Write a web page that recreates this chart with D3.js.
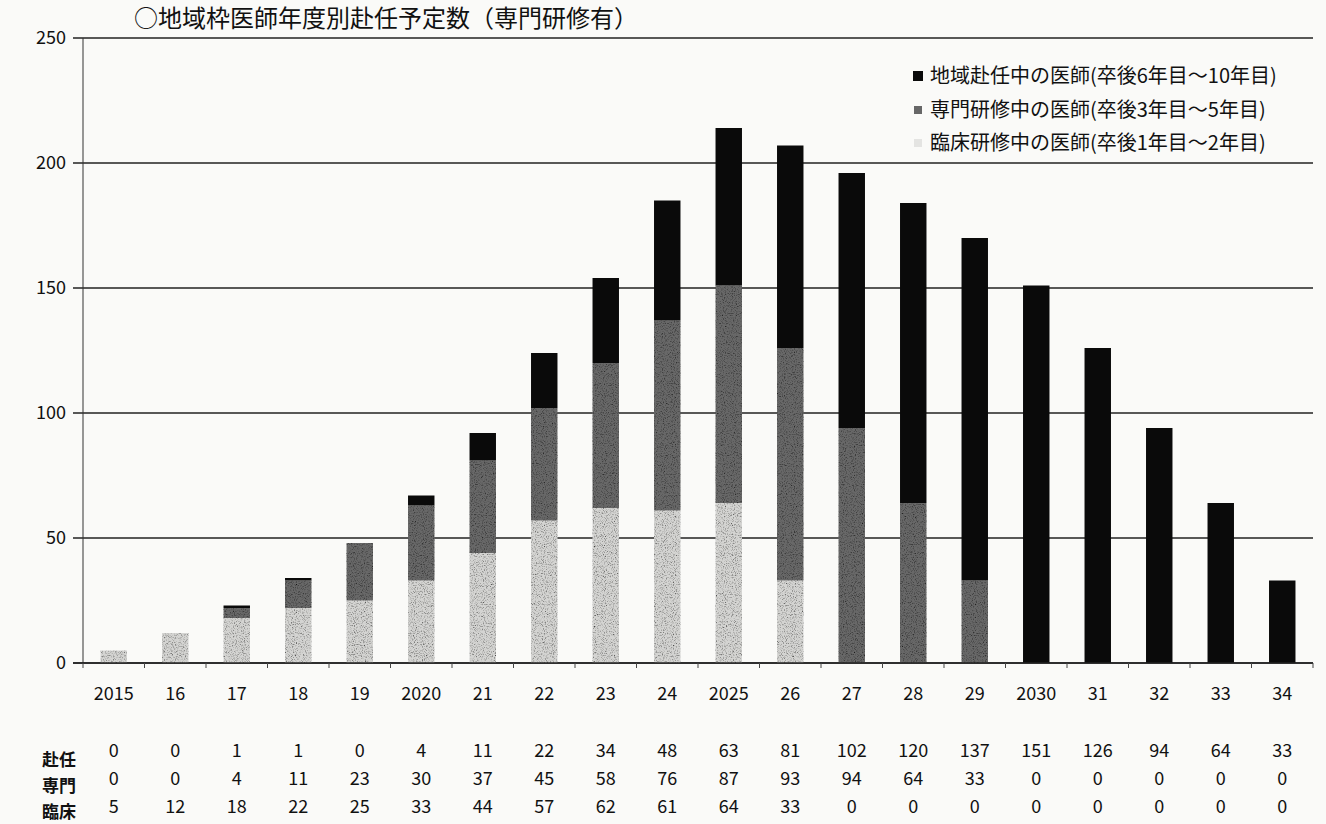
<!DOCTYPE html>
<html>
<head>
<meta charset="utf-8">
<script src="https://cdn.jsdelivr.net/npm/d3@7"></script>
<style>
  body { margin: 0; background: #fafaf8; }
  svg { display: block; }
  text { font-family: "Noto Sans CJK JP", "Noto Sans", sans-serif; fill: #111; }
</style>
</head>
<body>
<div class="canvas"></div>
<script>
// tick labels on the x axis (fiscal years)
const years = ['2015','16','17','18','19','2020','21','22','23','24','2025','26','27','28','29','2030','31','32','33','34'];

// doctors by stage
const rinsho = [5, 12, 18, 22, 25, 33, 44, 57, 62, 61, 64, 33, 0, 0, 0, 0, 0, 0, 0, 0];   // 臨床研修
const senmon = [0, 0, 4, 11, 23, 30, 37, 45, 58, 76, 87, 93, 94, 64, 33, 0, 0, 0, 0, 0];  // 専門研修
const funin  = [0, 0, 1, 1, 0, 4, 11, 22, 34, 48, 63, 81, 102, 120, 137, 151, 126, 94, 64, 33]; // 地域赴任

const seriesKeys = ['rinsho', 'senmon', 'funin'];
const legendLabels = ['地域赴任中の医師(卒後6年目～10年目)', '専門研修中の医師(卒後3年目～5年目)', '臨床研修中の医師(卒後1年目～2年目)'];
const tableRows = [['赴任', funin], ['専門', senmon], ['臨床', rinsho]];
const yTicks = [0, 50, 100, 150, 200, 250];

const colors = {rinsho: '#d4d4d2', senmon: '#676767', funin: '#0a0a0a'};

const dims = {width: 1326, height: 824};
const plot = {left: 83, right: 1313, top: 38, bottom: 663};

const svg = d3.select('.canvas')
    .append('svg').attr('width', dims.width).attr('height', dims.height);

// build rows for the stack
const rows = years.map((y, i) => ({year: y, rinsho: rinsho[i], senmon: senmon[i], funin: funin[i]}));
const stacked = d3.stack().keys(seriesKeys)(rows);

const x = d3.scaleBand()
    .domain(years)
    .range([plot.left, plot.right])
    .paddingInner(0.57)
    .paddingOuter(0.285);

const y = d3.scaleLinear()
    .domain([0, 250])
    .range([plot.bottom, plot.top]);

// speckle texture like the scanned original
const defs = svg.append('defs');
const f = defs.append('filter').attr('id', 'grain').attr('x', 0).attr('y', 0).attr('width', 1).attr('height', 1);
f.append('feTurbulence').attr('type', 'fractalNoise').attr('baseFrequency', 0.9).attr('numOctaves', 2).attr('seed', 3).attr('result', 'noise');
f.append('feColorMatrix').attr('in', 'noise').attr('type', 'matrix')
    .attr('values', '0 0 0 0 0  0 0 0 0 0  0 0 0 0 0  0 0 0 -2.2 1.15').attr('result', 'dots');
f.append('feComposite').attr('in', 'dots').attr('in2', 'SourceGraphic').attr('operator', 'in').attr('result', 'dots2');
f.append('feMerge').selectAll('feMergeNode').data(['SourceGraphic', 'dots2']).join('feMergeNode').attr('in', d => d);

// gridlines
svg.append('g')
    .selectAll('line')
    .data(yTicks)
    .join('line')
    .attr('x1', plot.left - 10).attr('x2', plot.right)
    .attr('y1', d => y(d)).attr('y2', d => y(d))
    .attr('stroke', '#222').attr('stroke-width', 1.3);

// y axis line
svg.append('line')
    .attr('x1', plot.left).attr('x2', plot.left)
    .attr('y1', y(250)).attr('y2', y(0))
    .attr('stroke', '#333').attr('stroke-width', 1);

// y tick labels
svg.append('g')
    .selectAll('text')
    .data(yTicks)
    .join('text')
    .attr('x', 66).attr('y', d => y(d))
    .attr('dy', '0.35em')
    .attr('text-anchor', 'end')
    .attr('font-size', 18)
    .text(d => d);

// bars
const groups = svg.append('g')
    .selectAll('g')
    .data(stacked)
    .join('g')
    .attr('fill', d => colors[d.key])
    .attr('filter', d => d.key === 'funin' ? null : 'url(#grain)');

groups.selectAll('rect')
    .data(d => d)
    .join('rect')
    .attr('x', d => x(d.data.year))
    .attr('width', x.bandwidth())
    .attr('y', d => y(d[1]))
    .attr('height', d => y(d[0]) - y(d[1]));

// x axis with small ticks between categories
svg.append('line')
    .attr('x1', plot.left - 10).attr('x2', plot.right)
    .attr('y1', y(0)).attr('y2', y(0))
    .attr('stroke', '#222').attr('stroke-width', 1.3);

svg.append('g')
    .selectAll('line')
    .data(d3.range(years.length + 1))
    .join('line')
    .attr('x1', i => plot.left + i * x.step()).attr('x2', i => plot.left + i * x.step())
    .attr('y1', y(0)).attr('y2', y(0) + 5)
    .attr('stroke', '#444');

svg.append('g')
    .selectAll('text')
    .data(years)
    .join('text')
    .attr('x', d => x(d) + x.bandwidth() / 2)
    .attr('y', 694)
    .attr('dy', '0.35em')
    .attr('text-anchor', 'middle')
    .attr('font-size', 18)
    .text(d => d);

// data table under the axis
const rowY = [751, 779, 807];
const labelY = [760, 786, 812];
tableRows.forEach(([label, vals], r) => {
    svg.append('text')
        .attr('x', 42).attr('y', labelY[r])
        .attr('dy', '0.35em')
        .attr('font-size', 17)
        .attr('font-weight', 'bold')
        .text(label);
    svg.append('g')
        .selectAll('text')
        .data(vals)
        .join('text')
        .attr('x', (d, i) => x(years[i]) + x.bandwidth() / 2)
        .attr('y', rowY[r])
        .attr('dy', '0.35em')
        .attr('text-anchor', 'middle')
        .attr('font-size', 18)
        .text(d => d);
});

// title
svg.append('text')
    .attr('x', 134).attr('y', 19)
    .attr('dy', '0.35em')
    .attr('font-size', 24)
    .attr('fill', '#222')
    .text('○地域枠医師年度別赴任予定数（専門研修有）');

// legend
const legendKeys = ['funin', 'senmon', 'rinsho'];
const legend = svg.append('g')
    .selectAll('g')
    .data(legendKeys)
    .join('g')
    .attr('transform', (d, i) => `translate(913,${[76, 110, 143][i]})`);

legend.append('rect')
    .attr('x', d => d === 'funin' ? 0 : 1).attr('y', d => d === 'funin' ? -5 : -4)
    .attr('width', d => d === 'funin' ? 10 : 8).attr('height', d => d === 'funin' ? 10 : 8)
    .attr('fill', d => d === 'rinsho' ? '#e4e4e2' : colors[d]);

legend.append('text')
    .attr('x', 17)
    .attr('dy', '0.35em')
    .attr('font-size', 20)
    .text((d, i) => legendLabels[i]);
</script>
</body>
</html>
